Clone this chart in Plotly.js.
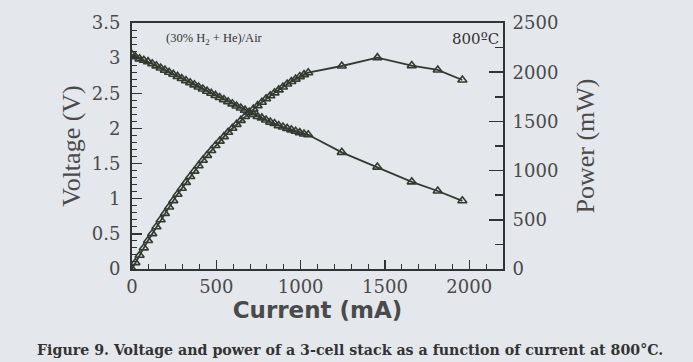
<!DOCTYPE html>
<html>
<head>
<meta charset="utf-8">
<script src="https://cdn.plot.ly/plotly-3.0.1.min.js"></script>
<style>html,body{margin:0;padding:0;background:#e4e8ec;}#chart{width:693px;height:362px;}</style>
</head>
<body>
<div id="chart"></div>
<script>
// Current (mA)
const current = [0,20,45,70,95,120,145,170,195,220,245,270,295,320,345,370,395,420,445,470,495,520,545,570,595,620,645,670,695,720,745,770,795,820,845,870,895,920,945,970,995,1020,1045,1244,1455,1659,1813,1959];
// Stack voltage (V)
const voltage = [3.05,3.02,2.99,2.97,2.95,2.92,2.89,2.86,2.83,2.80,2.77,2.74,2.71,2.68,2.65,2.62,2.59,2.56,2.53,2.50,2.47,2.44,2.41,2.38,2.35,2.32,2.29,2.26,2.23,2.20,2.17,2.15,2.12,2.09,2.07,2.04,2.02,2.00,1.98,1.96,1.94,1.92,1.91,1.66,1.45,1.24,1.11,0.97];
// Stack power (mW)
const power = [0,65,140,215,290,360,430,500,565,630,695,760,820,880,940,995,1050,1105,1155,1205,1255,1300,1345,1390,1430,1470,1510,1550,1590,1625,1660,1695,1730,1760,1790,1820,1850,1880,1905,1930,1955,1975,1995,2063,2148,2067,2023,1921];

const ink = '#333a31';
const marker = {symbol:'triangle-up-open', size:8, color:ink, line:{width:1.6, color:ink}};
const traces = [
  {x: current, y: voltage, mode:'lines+markers', line:{color:ink, width:1.8}, marker: marker, yaxis:'y', showlegend:false},
  {x: current, y: power, mode:'lines+markers', line:{color:ink, width:1.8}, marker: marker, yaxis:'y2', showlegend:false}
];

const tickFont = {family:'DejaVu Serif, serif', size:18, color:'#4a4a4a'};
const layout = {
  width:693, height:362,
  paper_bgcolor:'#e4e8ec', plot_bgcolor:'#e4e8ec',
  margin:{l:132, r:190, t:23, b:93},
  showlegend:false,
  xaxis:{
    range:[0,2200], tickvals:[0,500,1000,1500,2000], ticks:'inside', ticklen:9, tickwidth:1.5, tickcolor:'#333',
    minor:{dtick:100, ticks:'inside', ticklen:5, tickwidth:1, tickcolor:'#333'},
    showline:true, linecolor:'#333', linewidth:2, mirror:true, showgrid:false, zeroline:false,
    tickfont:tickFont,
    title:{text:'<b>Current (mA)</b>', font:{family:'DejaVu Sans, sans-serif', size:23, color:'#4a4a4a'}, standoff:6}
  },
  yaxis:{
    range:[0,3.5], dtick:0.5, ticks:'inside', ticklen:10, tickwidth:1.5, tickcolor:'#333',
    minor:{dtick:0.1, ticks:'inside', ticklen:5, tickwidth:1, tickcolor:'#333'},
    showline:true, linecolor:'#333', linewidth:2, showgrid:false, zeroline:false,
    tickfont:tickFont, ticklabelstandoff:6,
    title:{text:'Voltage (V)', font:{family:'Liberation Serif, serif', size:26, color:'#4a4a4a'}, standoff:4}
  },
  yaxis2:{
    overlaying:'y', side:'right', range:[0,2500], dtick:500, ticks:'inside', ticklen:14, tickwidth:1.5, tickcolor:'#333',
    minor:{dtick:250, ticks:'inside', ticklen:8, tickwidth:1.5, tickcolor:'#333'},
    showline:true, linecolor:'#333', linewidth:2, showgrid:false, zeroline:false,
    tickfont:tickFont, ticklabelstandoff:4,
    title:{text:'Power (mW)', font:{family:'Liberation Serif, serif', size:26, color:'#4a4a4a'}, standoff:18}
  },
  annotations:[
    {xref:'paper', yref:'paper', x:0.085, y:0.975, xanchor:'left', yanchor:'top', showarrow:false,
     text:'(30% H<sub>2</sub> + He)/Air', font:{family:'Liberation Serif, serif', size:12.5, color:'#333'}},
    {xref:'paper', yref:'paper', x:0.995, y:0.98, xanchor:'right', yanchor:'top', showarrow:false,
     text:'800ºC', font:{family:'DejaVu Serif, serif', size:15, color:'#333'}},
    {xref:'paper', yref:'paper', x:-0.262, y:-0.29, xanchor:'left', yanchor:'top', showarrow:false,
     text:'<b>Figure 9. Voltage and power of a 3-cell stack as a function of current at 800°C.</b>',
     font:{family:'DejaVu Serif, serif', size:14.2, color:'#333'}}
  ]
};
Plotly.newPlot('chart', traces, layout, {staticPlot:true, displayModeBar:false});
</script>
</body>
</html>
